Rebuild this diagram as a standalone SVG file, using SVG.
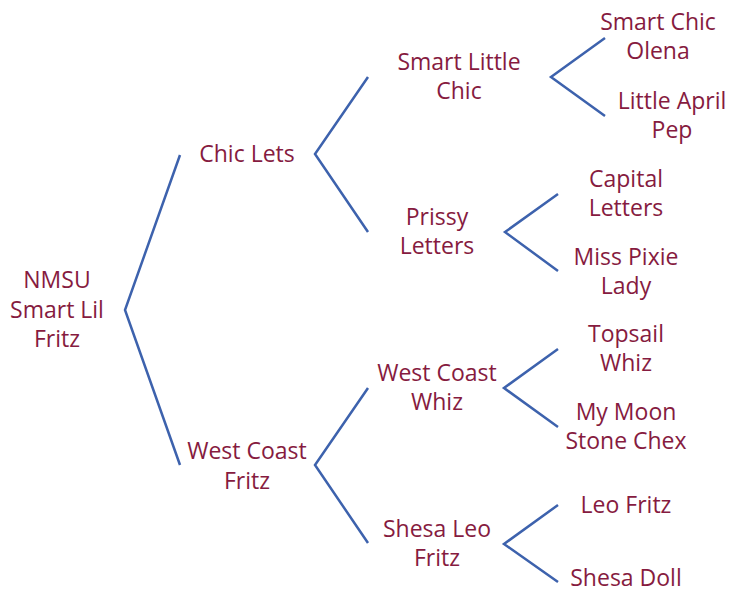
<svg xmlns="http://www.w3.org/2000/svg" width="731" height="593" viewBox="0 0 731 593">
<style>
text{font-family:"Open Sans","Liberation Sans",sans-serif;font-size:23px;fill:#861b40;text-anchor:middle}
.c{fill:none;stroke:#3d62ad;stroke-width:2.5;stroke-linejoin:miter}
</style>
<rect width="731" height="593" fill="#fff"/>
<g id="connectors">
<polyline class="c" points="180,155 125,310 180,465"/>
<polyline class="c" points="368,77 315,154 368,232"/>
<polyline class="c" points="368,388 315,465 368,543"/>
<polyline class="c" points="605,38 551,77 605,116"/>
<polyline class="c" points="558,194 505,232 558,271"/>
<polyline class="c" points="558,349 504,388 558,427"/>
<polyline class="c" points="558,505 504,544 558,582"/>
</g>
<g id="n-nmsu"><text x="57" y="288">NMSU</text><text x="57" y="318">Smart Lil</text><text x="57" y="347">Fritz</text></g>
<g id="n-chiclets"><text x="247" y="162">Chic Lets</text></g>
<g id="n-westcoastfritz"><text x="247" y="459">West Coast</text><text x="247" y="489">Fritz</text></g>
<g id="n-smartlittlechic"><text x="459" y="70">Smart Little</text><text x="459" y="99">Chic</text></g>
<g id="n-prissyletters"><text x="437" y="225">Prissy</text><text x="437" y="254">Letters</text></g>
<g id="n-westcoastwhiz"><text x="437" y="381">West Coast</text><text x="437" y="410">Whiz</text></g>
<g id="n-shesaleofritz"><text x="437" y="537">Shesa Leo</text><text x="437" y="566">Fritz</text></g>
<g id="n-smartchicolena"><text x="658" y="30">Smart Chic</text><text x="658" y="59">Olena</text></g>
<g id="n-littleaprilpep"><text x="672" y="109">Little April</text><text x="672" y="138">Pep</text></g>
<g id="n-capitalletters"><text x="626" y="187">Capital</text><text x="626" y="216">Letters</text></g>
<g id="n-misspixielady"><text x="626" y="265">Miss Pixie</text><text x="626" y="294">Lady</text></g>
<g id="n-topsailwhiz"><text x="626" y="342">Topsail</text><text x="626" y="371">Whiz</text></g>
<g id="n-mymoonstonechex"><text x="626" y="420">My Moon</text><text x="626" y="449">Stone Chex</text></g>
<g id="n-leofritz"><text x="626" y="513">Leo Fritz</text></g>
<g id="n-shesadoll"><text x="626" y="586">Shesa Doll</text></g>
</svg>
